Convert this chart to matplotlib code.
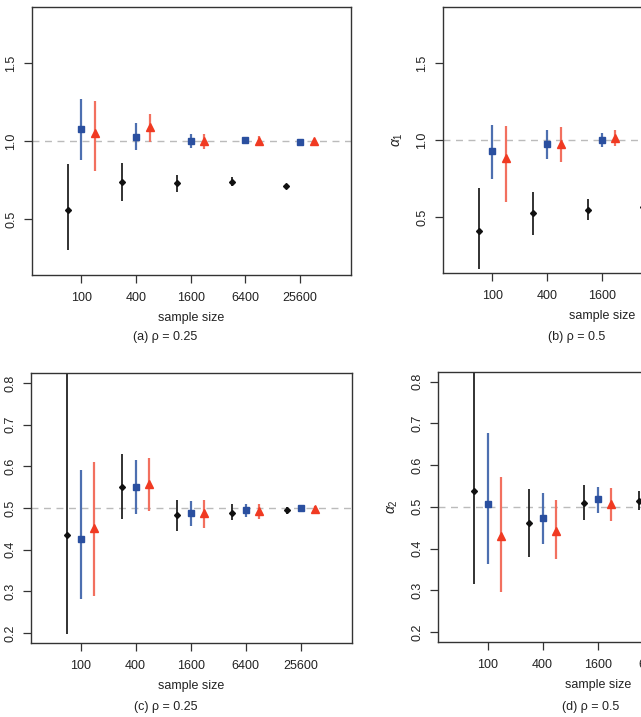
import numpy as np
import matplotlib
matplotlib.use('Agg')
import matplotlib.pyplot as plt

plt.rcParams['font.family'] = ['Liberation Sans', 'DejaVu Sans']
plt.rcParams['font.size'] = 9
plt.rcParams['mathtext.fontset'] = 'custom'
plt.rcParams['mathtext.rm'] = 'Liberation Sans'
plt.rcParams['mathtext.it'] = 'Liberation Sans:italic'

# sample sizes on the x axis
sizes = [100, 400, 1600, 6400, 25600]
size_labels = ['100', '400', '1600', '6400', '25600']

# each panel: rows = black (naive), blue (squares), red (triangles)
# (a) alpha_1, rho = 0.25
a_est = [[0.562, 0.740, 0.733, 0.740, 0.712],
         [1.079, 1.028, 1.004, 1.011, 0.998],
         [1.054, 1.092, 1.000, 1.000, 1.000]]
a_lo = [[0.306, 0.615, 0.673, 0.712, 0.700],
        [0.883, 0.942, 0.957, 0.985, 0.988],
        [0.812, 0.994, 0.953, 0.985, 0.990]]
a_hi = [[0.857, 0.861, 0.787, 0.769, 0.722],
        [1.272, 1.118, 1.047, 1.030, 1.008],
        [1.261, 1.178, 1.049, 1.032, 1.010]]

# (b) alpha_1, rho = 0.5
b_est = [[0.411, 0.528, 0.550, 0.565, 0.560],
         [0.931, 0.978, 1.002, 1.000, 1.000],
         [0.883, 0.978, 1.017, 1.005, 1.000]]
b_lo = [[0.167, 0.383, 0.481, 0.530, 0.545],
        [0.751, 0.877, 0.957, 0.980, 0.990],
        [0.600, 0.859, 0.961, 0.980, 0.990]]
b_hi = [[0.690, 0.664, 0.617, 0.600, 0.575],
        [1.102, 1.069, 1.047, 1.020, 1.010],
        [1.095, 1.084, 1.069, 1.030, 1.010]]

# (c) alpha_2, rho = 0.25
c_est = [[0.436, 0.551, 0.483, 0.489, 0.494],
         [0.426, 0.550, 0.488, 0.494, 0.499],
         [0.453, 0.557, 0.487, 0.492, 0.498]]
c_lo = [[0.198, 0.474, 0.445, 0.470, 0.485],
        [0.282, 0.485, 0.457, 0.478, 0.493],
        [0.289, 0.493, 0.452, 0.473, 0.490]]
c_hi = [[0.900, 0.629, 0.519, 0.509, 0.503],
        [0.591, 0.615, 0.517, 0.510, 0.505],
        [0.611, 0.619, 0.519, 0.510, 0.505]]

# (d) alpha_2, rho = 0.5
d_est = [[0.538, 0.460, 0.510, 0.514, 0.505],
         [0.506, 0.472, 0.518, 0.505, 0.502],
         [0.430, 0.442, 0.506, 0.503, 0.501]]
d_lo = [[0.316, 0.380, 0.468, 0.492, 0.495],
        [0.362, 0.412, 0.486, 0.490, 0.495],
        [0.296, 0.374, 0.466, 0.488, 0.494]]
d_hi = [[0.900, 0.542, 0.552, 0.538, 0.515],
        [0.676, 0.534, 0.548, 0.520, 0.510],
        [0.572, 0.516, 0.546, 0.518, 0.508]]

offsets = [-0.25, 0.0, 0.25]          # shift in log4 units
marks = ['D', 's', '^']
msizes = [3.0, 5.0, 5.5]
mcols = ['#111111', '#2a4f9f', '#f03a22']
bcols = ['#222222', '#4d6fb0', '#f2705f']
bwidths = [1.3, 1.6, 1.6]

W, H = 641, 717
fig = plt.figure(figsize=(W / 100, H / 100), dpi=100)


def px_axes(x0, y0, x1, y1):
    return fig.add_axes([x0 / W, 1 - y1 / H, (x1 - x0) / W, (y1 - y0) / H])


def draw(ax, est, lo, hi, ref, ylim, yticks, ylabel):
    x = np.array(sizes, dtype=float)
    for k in range(3):
        xs = x * 4.0 ** offsets[k]
        ax.vlines(xs, lo[k], hi[k], colors=bcols[k], lw=bwidths[k], zorder=2)
        ax.plot(xs, est[k], ls='none', marker=marks[k], ms=msizes[k],
                color=mcols[k], mec=mcols[k], zorder=3)
    ax.axhline(ref, color='#bbbbbb', lw=1.0, ls=(0, (5, 4)), zorder=1)
    ax.set_xscale('log', base=4)
    ax.set_xlim(100 * 4.0 ** -0.9, 100 * 4.0 ** 4.93)
    ax.set_ylim(*ylim)
    ax.set_xticks(sizes)
    ax.set_xticklabels(size_labels)
    ax.minorticks_off()
    ax.set_yticks(yticks)
    ax.set_yticklabels(['%.1f' % t for t in yticks], rotation=90, va='center')
    ax.tick_params(direction='out', length=5.5, width=0.9, color='#333333',
                   pad=5, labelsize=9, labelcolor='#222222')
    ax.tick_params(axis='x', pad=7)
    for s in ax.spines.values():
        s.set_color('#333333')
        s.set_linewidth(1.0)
    ax.set_xlabel('sample size', labelpad=5.5, color='#222222')
    if ylabel:
        ax.set_ylabel(ylabel, labelpad=8, fontsize=10, color='#222222')


ax_a = px_axes(32, 7, 351, 275)
draw(ax_a, a_est, a_lo, a_hi, 1.0, (0.143, 1.862), [0.5, 1.0, 1.5], None)
ax_b = px_axes(443, 7, 762, 273)
draw(ax_b, b_est, b_lo, b_hi, 1.0, (0.138, 1.866), [0.5, 1.0, 1.5],
     r'$\alpha_1$')
ax_c = px_axes(31, 373, 352, 643)
draw(ax_c, c_est, c_lo, c_hi, 0.5, (0.176, 0.824),
     [0.2, 0.3, 0.4, 0.5, 0.6, 0.7, 0.8], None)
ax_d = px_axes(438, 372, 759, 642)
draw(ax_d, d_est, d_lo, d_hi, 0.5, (0.176, 0.823),
     [0.2, 0.3, 0.4, 0.5, 0.6, 0.7, 0.8], r'$\alpha_2$')

captions = [('(a) ρ = 0.25', 165, 337), ('(b) ρ = 0.5', 577, 337),
            ('(c) ρ = 0.25', 166, 707), ('(d) ρ = 0.5', 591, 707)]
for txt, cx, cy in captions:
    fig.text(cx / W, 1 - cy / H, txt, ha='center', va='center',
             fontsize=9, color='#222222')

fig.savefig('out.png', dpi=100)
